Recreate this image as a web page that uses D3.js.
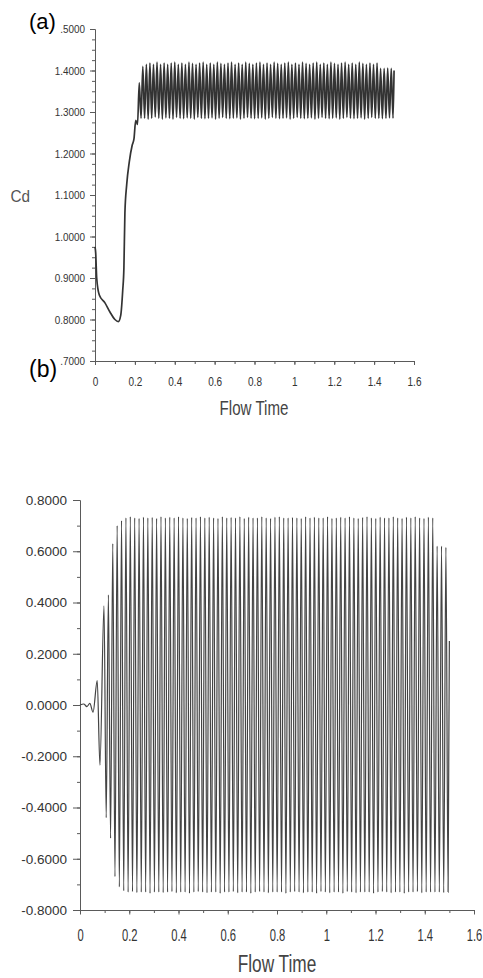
<!DOCTYPE html>
<html>
<head>
<meta charset="utf-8">
<script src="https://cdn.jsdelivr.net/npm/d3@7"></script>
<style>
  html, body { margin: 0; padding: 0; background: #fff; }
  svg { display: block; }
  text { font-family: "Liberation Sans", Arial, Helvetica, sans-serif; }
</style>
</head>
<body>
<script>
// ---------------- DATA ----------------
// Panel (a): drag coefficient Cd
const cdTicks = [0.7, 0.8, 0.9, 1.0, 1.1, 1.2, 1.3, 1.4, 1.5];
const cdTickLabels = [".7000", "0.8000", "0.9000", "1.0000", "1.1000", "1.2000", "1.3000", "1.4000", ".5000"];
// Panel (b): lift coefficient
const clTicks = [-0.8, -0.6, -0.4, -0.2, 0.0, 0.2, 0.4, 0.6, 0.8];
const clTickLabels = ["-0.8000", "-0.6000", "-0.4000", "-0.2000", "0.0000", "0.2000", "0.4000", "0.6000", "0.8000"];
// Flow time axis
const timeTicks = [0, 0.2, 0.4, 0.6, 0.8, 1.0, 1.2, 1.4, 1.6];
const timeTickLabels = ["0", "0.2", "0.4", "0.6", "0.8", "1", "1.2", "1.4", "1.6"];

// Cd transient before oscillation
const cdPreTime  = [0, 0.0035, 0.0085, 0.0216, 0.05, 0.075, 0.1, 0.117, 0.129, 0.139, 0.145, 0.15, 0.159, 0.172];
const cdPreValue = [0.975, 0.96, 0.90, 0.859, 0.84, 0.818, 0.80, 0.795, 0.81, 0.87, 0.925, 1.057, 1.125, 1.18];

// Lift transient before oscillation
const clPreTime  = [0, 0.015, 0.028, 0.04, 0.053, 0.07, 0.081];
const clPreValue = [0, 0.004, -0.006, 0.006, -0.028, 0.095, -0.235];

// Times of successive extrema
const tOsc = [0.0975,0.1064,0.1153,0.1242,0.1331,0.1420,0.1509,0.1598,0.1687,0.1776,
0.1865,0.1954,0.2043,0.2132,0.2221,0.2310,0.2399,0.2488,0.2577,0.2666,
0.2755,0.2844,0.2933,0.3022,0.3111,0.3200,0.3289,0.3378,0.3467,0.3556,
0.3645,0.3734,0.3823,0.3912,0.4001,0.4090,0.4179,0.4268,0.4357,0.4446,
0.4535,0.4624,0.4713,0.4802,0.4891,0.4980,0.5069,0.5158,0.5247,0.5336,
0.5425,0.5514,0.5603,0.5692,0.5781,0.5870,0.5959,0.6048,0.6137,0.6226,
0.6315,0.6404,0.6493,0.6582,0.6671,0.6760,0.6849,0.6938,0.7027,0.7116,
0.7205,0.7294,0.7383,0.7472,0.7561,0.7650,0.7739,0.7828,0.7917,0.8006,
0.8095,0.8184,0.8273,0.8362,0.8451,0.8540,0.8629,0.8718,0.8807,0.8896,
0.8985,0.9074,0.9163,0.9252,0.9341,0.9430,0.9519,0.9608,0.9697,0.9786,
0.9875,0.9964,1.0053,1.0142,1.0231,1.0320,1.0409,1.0498,1.0587,1.0676,
1.0765,1.0854,1.0943,1.1032,1.1121,1.1210,1.1299,1.1388,1.1477,1.1566,
1.1655,1.1744,1.1833,1.1922,1.2011,1.2100,1.2189,1.2278,1.2367,1.2456,
1.2545,1.2634,1.2723,1.2812,1.2901,1.2990,1.3079,1.3168,1.3257,1.3346,
1.3435,1.3524,1.3613,1.3702,1.3791,1.3880,1.3969,1.4058,1.4147,1.4236,
1.4325,1.4414,1.4503,1.4592,1.4681,1.4770,1.4859,1.4948];

// Lift extrema values, aligned with tOsc
const clOsc = [0.387,-0.44,0.43,-0.52,0.63,-0.67,0.70,-0.71,0.72,-0.725,
0.73,-0.73,0.735,-0.728,0.73,-0.732,0.728,-0.73,0.733,-0.73,
0.73,-0.735,0.732,-0.73,0.728,-0.73,0.735,-0.732,0.73,-0.73,
0.733,-0.728,0.73,-0.733,0.735,-0.73,0.73,-0.73,0.728,-0.735,
0.732,-0.73,0.73,-0.728,0.735,-0.73,0.73,-0.733,0.733,-0.73,
0.73,-0.73,0.728,-0.735,0.735,-0.73,0.73,-0.73,0.732,-0.728,
0.73,-0.733,0.735,-0.73,0.728,-0.73,0.733,-0.735,0.73,-0.73,
0.73,-0.728,0.735,-0.73,0.73,-0.733,0.728,-0.73,0.733,-0.73,
0.735,-0.73,0.73,-0.735,0.73,-0.73,0.732,-0.728,0.73,-0.73,
0.728,-0.733,0.735,-0.73,0.73,-0.73,0.733,-0.735,0.73,-0.728,
0.73,-0.73,0.735,-0.733,0.728,-0.73,0.73,-0.73,0.733,-0.735,
0.73,-0.728,0.735,-0.73,0.73,-0.733,0.728,-0.73,0.732,-0.73,
0.735,-0.73,0.73,-0.735,0.728,-0.73,0.733,-0.728,0.73,-0.73,
0.73,-0.733,0.735,-0.73,0.73,-0.73,0.728,-0.735,0.733,-0.73,
0.73,-0.73,0.735,-0.728,0.73,-0.733,0.728,-0.73,0.733,-0.73,
0.73,-0.73,0.62,-0.73,0.62,-0.732,0.615,-0.73];
const clEndTime = [1.5];
const clEndValue = [0.25];

// Cd extrema values, aligned with tOsc starting at index cdOscFrom
const cdOscFrom = 10;
const cdOsc = [1.22,1.235,1.28,1.27,1.37,1.285,1.41,1.285,1.415,1.283,
1.418,1.285,1.415,1.288,1.42,1.285,1.415,1.283,1.418,1.286,
1.415,1.285,1.418,1.283,1.42,1.287,1.415,1.285,1.418,1.284,
1.415,1.286,1.42,1.285,1.417,1.283,1.415,1.287,1.418,1.285,
1.42,1.284,1.415,1.285,1.418,1.286,1.415,1.283,1.42,1.285,
1.417,1.287,1.415,1.285,1.418,1.284,1.42,1.285,1.415,1.286,
1.418,1.283,1.415,1.285,1.42,1.287,1.417,1.285,1.415,1.284,
1.418,1.285,1.42,1.286,1.415,1.283,1.418,1.285,1.415,1.287,
1.42,1.285,1.417,1.284,1.415,1.285,1.418,1.286,1.42,1.283,
1.415,1.285,1.418,1.287,1.415,1.285,1.42,1.284,1.417,1.285,
1.415,1.286,1.418,1.283,1.42,1.285,1.415,1.287,1.418,1.285,
1.415,1.284,1.42,1.285,1.417,1.286,1.415,1.283,1.418,1.285,
1.42,1.287,1.415,1.285,1.418,1.284,1.415,1.285,1.42,1.286,
1.417,1.283,1.415,1.285,1.418,1.287,1.415,1.285,1.418,1.285,
1.405,1.284,1.405,1.285,1.406,1.286,1.405,1.285];
const cdEndTime = [1.5];
const cdEndValue = [1.40];

// ---------------- BUILD SERIES ----------------
const cdSeries = [];
cdPreTime.forEach((t, i) => cdSeries.push([t, cdPreValue[i]]));
cdOsc.forEach((v, i) => cdSeries.push([tOsc[cdOscFrom + i], v]));
cdEndTime.forEach((t, i) => cdSeries.push([t, cdEndValue[i]]));

const clSeries = [];
clPreTime.forEach((t, i) => clSeries.push([t, clPreValue[i]]));
clOsc.forEach((v, i) => clSeries.push([tOsc[i], v]));
clEndTime.forEach((t, i) => clSeries.push([t, clEndValue[i]]));

// ---------------- DRAW ----------------
const W = 483, H = 978;
const svg = d3.select("body").append("svg")
  .attr("width", W).attr("height", H)
  .attr("viewBox", `0 0 ${W} ${H}`);
svg.append("rect").attr("width", W).attr("height", H).attr("fill", "#fff");

const axisColor = "#5a5a5a";
const labelColor = "#333";

function styleAxis(g, fontSize, sx) {
  g.select(".domain").attr("stroke", axisColor).attr("stroke-width", 1);
  g.selectAll(".tick line").attr("stroke", axisColor).attr("stroke-width", 1);
  g.selectAll(".tick text")
    .attr("fill", labelColor)
    .style("font-size", fontSize + "px")
    .attr("transform", sx ? `scale(${sx},1)` : null);
}

// ----- Panel (a) -----
const xA = d3.scaleLinear().domain([0, 1.6]).range([95, 414]);
const yA = d3.scaleLinear().domain([0.7, 1.5]).range([361, 29]);

svg.append("g").attr("transform", "translate(95,0)")
  .call(d3.axisLeft(yA).tickValues(d3.range(0.7, 1.5001, 0.025)).tickFormat("").tickSize(3).tickSizeOuter(0))
  .call(g => styleAxis(g, 10));
svg.append("g").attr("transform", "translate(0,361)")
  .call(d3.axisBottom(xA).tickValues(d3.range(0, 1.6001, 0.1)).tickFormat("").tickSize(3).tickSizeOuter(0))
  .call(g => styleAxis(g, 10));
svg.append("g").attr("transform", "translate(95,0)")
  .call(d3.axisLeft(yA).tickValues(cdTicks).tickFormat((d, i) => cdTickLabels[i]).tickSize(5).tickPadding(6).tickSizeOuter(0))
  .call(g => styleAxis(g, 11, 0.9));
svg.append("g").attr("transform", "translate(0,361)")
  .call(d3.axisBottom(xA).tickValues(timeTicks).tickFormat((d, i) => timeTickLabels[i]).tickSize(4).tickPadding(12).tickSizeOuter(0))
  .call(g => styleAxis(g, 13, 0.77));

svg.append("path")
  .datum(cdSeries)
  .attr("fill", "none")
  .attr("stroke", "#333")
  .attr("stroke-width", 1.7)
  .attr("stroke-linejoin", "round")
  .attr("d", d3.line().x(d => xA(d[0])).y(d => yA(d[1])).curve(d3.curveMonotoneX));

svg.append("text")
  .attr("transform", "translate(254,415) scale(0.72,1)")
  .attr("text-anchor", "middle").attr("fill", "#444")
  .style("font-size", "21px").text("Flow Time");
svg.append("text")
  .attr("transform", "translate(10.5,202) scale(0.9,1)")
  .attr("fill", "#555").style("font-size", "17px").text("Cd");
svg.append("text")
  .attr("x", 29).attr("y", 29).attr("fill", "#000")
  .style("font-size", "22px").text("(a)");
svg.append("text")
  .attr("x", 29).attr("y", 377).attr("fill", "#000")
  .style("font-size", "23px").text("(b)");

// ----- Panel (b) -----
const xB = d3.scaleLinear().domain([0, 1.6]).range([80, 474]);
const yB = d3.scaleLinear().domain([-0.8, 0.8]).range([910, 500]);

svg.append("g").attr("transform", "translate(80,0)")
  .call(d3.axisLeft(yB).tickValues(d3.range(-0.8, 0.8001, 0.1)).tickFormat("").tickSize(3).tickSizeOuter(0))
  .call(g => styleAxis(g, 10));
svg.append("g").attr("transform", "translate(0,910)")
  .call(d3.axisBottom(xB).tickValues(d3.range(0, 1.6001, 0.1)).tickFormat("").tickSize(3).tickSizeOuter(0))
  .call(g => styleAxis(g, 10));
svg.append("g").attr("transform", "translate(80,0)")
  .call(d3.axisLeft(yB).tickValues(clTicks).tickFormat((d, i) => clTickLabels[i]).tickSize(7).tickPadding(6).tickSizeOuter(0))
  .call(g => styleAxis(g, 13.5));
svg.append("g").attr("transform", "translate(0,910)")
  .call(d3.axisBottom(xB).tickValues(timeTicks).tickFormat((d, i) => timeTickLabels[i]).tickSize(4.5).tickPadding(15).tickSizeOuter(0))
  .call(g => styleAxis(g, 16, 0.7));

svg.append("path")
  .datum(clSeries)
  .attr("fill", "none")
  .attr("stroke", "#444")
  .attr("stroke-width", 1.2)
  .attr("d", d3.line().x(d => xB(d[0])).y(d => yB(d[1])).curve(d3.curveMonotoneX));

svg.append("text")
  .attr("transform", "translate(277,972) scale(0.72,1)")
  .attr("text-anchor", "middle").attr("fill", "#444")
  .style("font-size", "24px").text("Flow Time");
</script>
</body>
</html>
